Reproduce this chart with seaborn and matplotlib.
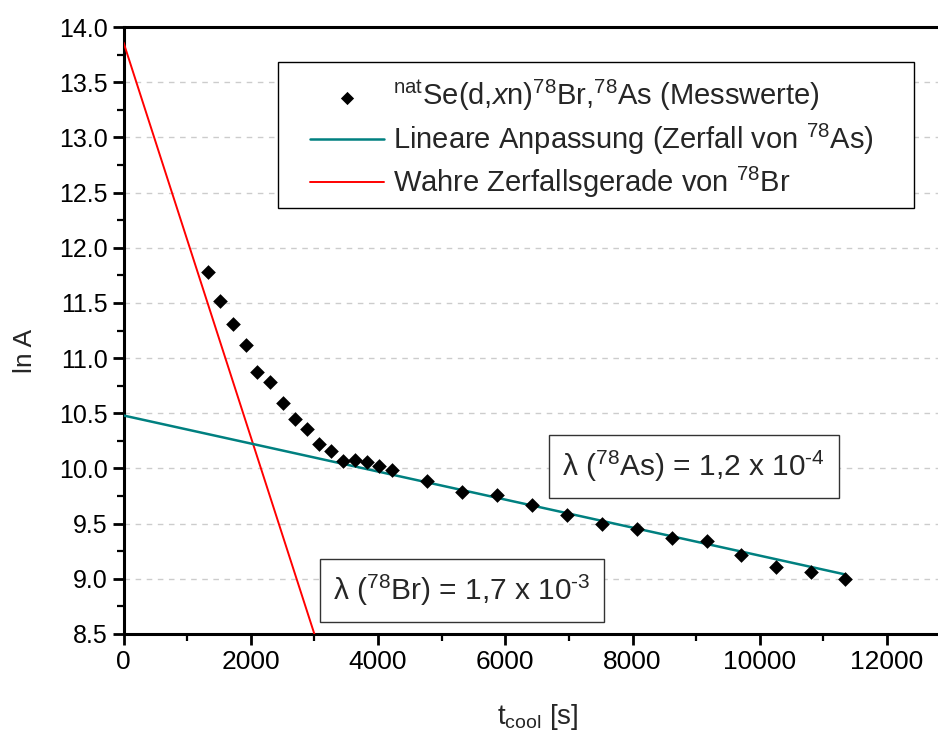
import numpy as np
import pandas as pd
import matplotlib
matplotlib.use("Agg")
import matplotlib.pyplot as plt
from matplotlib.ticker import MultipleLocator, FormatStrFormatter
from matplotlib.patches import Rectangle
import seaborn as sns

# Measured activity of the nat-Se(d,xn) target after end of bombardment
t_cool = [1323, 1521, 1721, 1921, 2098, 2302, 2506, 2695, 2883, 3077,
          3266, 3455, 3643, 3832, 4020, 4220, 4770, 5316, 5870, 6420,
          6966, 7516, 8066, 8621, 9166, 9710, 10255, 10801, 11345]
ln_a = [11.78, 11.52, 11.31, 11.12, 10.87, 10.78, 10.59, 10.45, 10.36, 10.22,
        10.16, 10.07, 10.08, 10.06, 10.02, 9.99, 9.89, 9.79, 9.76, 9.67,
        9.58, 9.50, 9.45, 9.37, 9.34, 9.22, 9.11, 9.06, 9.00]

# Linear fit of the late part (decay of 78As)
as_intercept = 10.48
as_decay = 1.27e-4
as_t = [0, 11345]

# True decay line of 78Br
br_intercept = 13.86
br_decay = 1.787e-3
br_t = [0, 3000]

label_points = r"$^{\mathrm{nat}}$Se(d,$\mathit{x}$n)$^{78}$Br,$^{78}$As (Messwerte)"
label_as = r"Lineare Anpassung (Zerfall von $^{78}$As)"
label_br = r"Wahre Zerfallsgerade von $^{78}$Br"
text_as = r"λ ($^{78}$As) = 1,2 x 10$^{\text{-}4}$"
text_br = r"λ ($^{78}$Br) = 1,7 x 10$^{\text{-}3}$"

sns.set_theme(style="white")
plt.rcParams["font.family"] = ["Liberation Sans", "DejaVu Sans"]
plt.rcParams["mathtext.fontset"] = "custom"
plt.rcParams["mathtext.rm"] = "Liberation Sans"
plt.rcParams["mathtext.it"] = "Liberation Sans:italic"
plt.rcParams["mathtext.default"] = "regular"

points = pd.DataFrame({"t": t_cool, "lnA": ln_a})
as_line = pd.DataFrame({"t": as_t,
                        "lnA": [as_intercept - as_decay * t for t in as_t]})
br_line = pd.DataFrame({"t": br_t,
                        "lnA": [br_intercept - br_decay * t for t in br_t]})

fig = plt.figure(figsize=(9.38, 7.31), dpi=100)
ax = fig.add_axes([0.1317, 0.1327, 0.8683, 0.8303])

sns.lineplot(data=br_line, x="t", y="lnA", ax=ax, color="#ff0000",
             linewidth=1.4, label=label_br, zorder=3)
sns.lineplot(data=as_line, x="t", y="lnA", ax=ax, color="#008080",
             linewidth=1.8, label=label_as, zorder=3)
sns.scatterplot(data=points, x="t", y="lnA", ax=ax, marker="D", s=56,
                color="black", edgecolor="black", linewidth=0,
                label=label_points, zorder=4)

ax.set_xlim(0, 12801)
ax.set_ylim(8.5, 14.0)
ax.xaxis.set_major_locator(MultipleLocator(2000))
ax.xaxis.set_minor_locator(MultipleLocator(1000))
ax.yaxis.set_major_locator(MultipleLocator(0.5))
ax.yaxis.set_minor_locator(MultipleLocator(0.25))
ax.yaxis.set_major_formatter(FormatStrFormatter("%.1f"))

ax.grid(axis="y", which="major", color="#cccccc", linestyle=(0, (4, 4)),
        linewidth=1.0)
ax.set_axisbelow(True)

for side in ("left", "bottom", "top"):
    ax.spines[side].set_color("black")
    ax.spines[side].set_linewidth(2.2)
ax.spines["right"].set_visible(False)

ax.tick_params(axis="both", which="major", direction="out", length=8,
               width=2, color="black", labelcolor="black",
               left=True, bottom=True, top=False, right=False)
ax.tick_params(axis="x", which="major", labelsize=19)
ax.tick_params(axis="y", which="major", labelsize=18)
ax.tick_params(axis="both", which="minor", direction="out", length=5,
               width=1.6, color="black", left=True, bottom=True,
               top=False, right=False)

ax.set_xlabel(r"t$_{\mathrm{cool}}$ [s]", fontsize=20)
ax.xaxis.set_label_coords(0.508, -0.1120)
ax.xaxis.label.set_va("top")
ax.set_ylabel("ln A", fontsize=19)
ax.yaxis.set_label_coords(-0.106, 0.466)

# Legend entries without the automatic frame; the box is drawn separately
handles, labels = ax.get_legend_handles_labels()
order = [labels.index(label_points), labels.index(label_as),
         labels.index(label_br)]
leg = ax.legend([handles[i] for i in order], [labels[i] for i in order],
                loc="upper left", bbox_to_anchor=(0.209, 0.942),
                borderaxespad=0, fontsize=21, frameon=False,
                handlelength=2.55, handletextpad=0.3,
                borderpad=0.55, labelspacing=0.28, markerscale=0.9)
ax.add_patch(Rectangle((0.1897, 0.7018), 0.7808, 0.2405,
                       transform=ax.transAxes, facecolor="white",
                       edgecolor="black", linewidth=1.0, zorder=4.5))
leg.set_zorder(6)

box = dict(boxstyle="square,pad=0.45", facecolor="white", edgecolor="#333333",
           linewidth=1.0)
ax.text(0.70, 0.276, text_as, transform=ax.transAxes, fontsize=21.5,
        ha="center", va="center", bbox=box, zorder=5)
ax.text(0.4156, 0.0717, text_br, transform=ax.transAxes, fontsize=21.5,
        ha="center", va="center", bbox=box, zorder=5)

fig.savefig("out.png", dpi=100)
